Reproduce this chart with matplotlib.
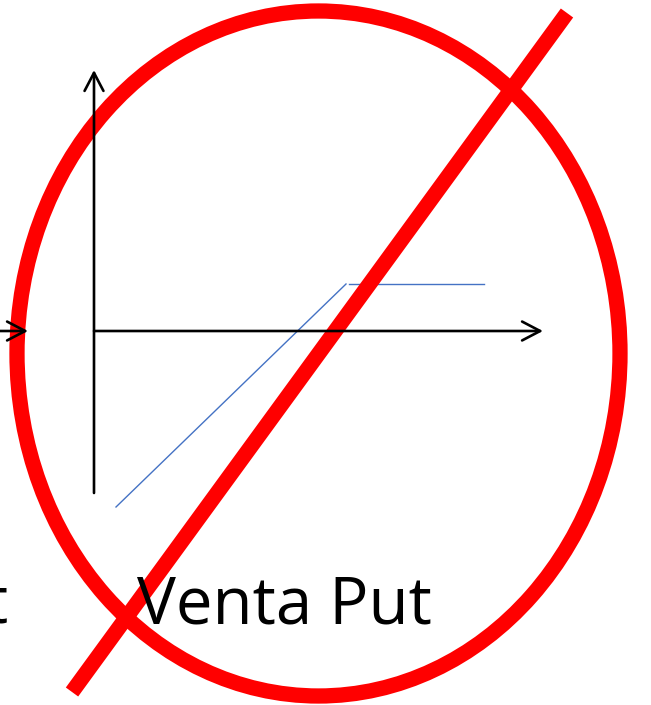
import matplotlib
matplotlib.use("Agg")
import matplotlib.pyplot as plt
from matplotlib.patches import Ellipse

# Layout in pixel units (origin top-left)
W, H = 651, 705

# Axes of the payoff diagram
origin = (94, 331)
x_axis_end = 543
y_axis_end = 70
y_axis_bottom = 493

# Short-put payoff: rising leg then flat premium
leg_x = [116, 346]
leg_y = [507, 284]
flat_x = [349, 484]
flat_y = [284, 284]

# Crossed-out mark
ellipse_center = (318.5, 353.5)
ellipse_size = (603, 685)
slash_x = [72, 567]
slash_y = [692, 13]

title = "Venta Put"
neighbour_tail = "t"

fig = plt.figure(figsize=(W / 100, H / 100), dpi=100)
ax = fig.add_axes([0, 0, 1, 1])
ax.set_xlim(0, W)
ax.set_ylim(H, 0)
ax.axis("off")

arrow = dict(arrowstyle="->,head_length=0.65,head_width=0.34", lw=1.9,
             color="black", shrinkA=0, shrinkB=0, mutation_scale=20)

# main axes
ax.annotate("", xy=(x_axis_end, origin[1]), xytext=origin, arrowprops=arrow)
ax.annotate("", xy=(origin[0], y_axis_end), xytext=(origin[0], y_axis_bottom),
            arrowprops=arrow)
# stray axis of the neighbouring diagram at the left edge
ax.annotate("", xy=(28, origin[1]), xytext=(-5, origin[1]), arrowprops=arrow)

# payoff
ax.plot(leg_x, leg_y, color="#4472C4", lw=1.0)
ax.plot(flat_x, flat_y, color="#4472C4", lw=1.0)

# labels
ax.text(137, 624, title, fontsize=47, family="Open Sans", ha="left",
        va="baseline", color="black")
ax.text(-3, 624, neighbour_tail, fontsize=47, family="Open Sans",
        ha="center", va="baseline", color="black")

# red cross-out
ax.add_patch(Ellipse(ellipse_center, ellipse_size[0], ellipse_size[1],
                     fill=False, edgecolor="#FF0000", lw=11))
ax.plot(slash_x, slash_y, color="#FF0000", lw=11, solid_capstyle="butt")

fig.savefig("out.png", dpi=100, facecolor="white")
